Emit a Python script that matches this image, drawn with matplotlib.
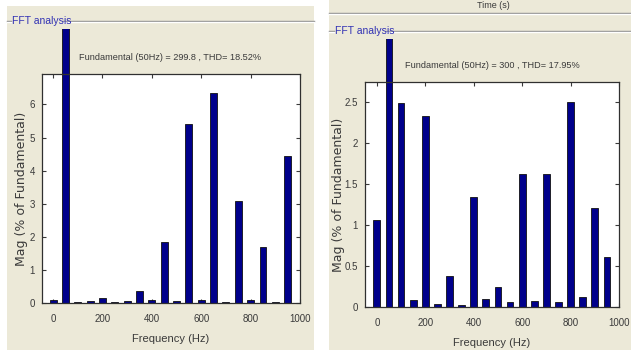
import matplotlib
matplotlib.use("Agg")
import matplotlib.pyplot as plt
from matplotlib.patches import Rectangle
from matplotlib.lines import Line2D
from matplotlib.transforms import Bbox, TransformedBbox

# Harmonic orders in Hz (DC up to 950 Hz in 50 Hz steps)
freqs = [0, 50, 100, 150, 200, 250, 300, 350, 400, 450,
         500, 550, 600, 650, 700, 750, 800, 850, 900, 950]

# Magnitudes in % of fundamental (fundamental = 100 %)
mag_left = [0.08, 100, 0.04, 0.07, 0.15, 0.04, 0.07, 0.37, 0.08, 1.83,
            0.07, 5.40, 0.08, 6.35, 0.04, 3.07, 0.08, 1.68, 0.04, 4.43]
mag_right = [1.06, 100, 2.48, 0.08, 2.33, 0.04, 0.38, 0.03, 1.34, 0.10,
             0.24, 0.06, 1.62, 0.07, 1.62, 0.06, 2.50, 0.12, 1.21, 0.61]

title_left = "Fundamental (50Hz) = 299.8 , THD= 18.52%"
title_right = "Fundamental (50Hz) = 300 , THD= 17.95%"
xticks = [0, 200, 400, 600, 800, 1000]
yticks_left = [0, 1, 2, 3, 4, 5, 6]
yticks_right = [0, 0.5, 1, 1.5, 2, 2.5]
yticklabels_right = ["0", "0.5", "1", "1.5", "2", "2.5"]

W, H = 631, 350
PANEL = "#ECE9D8"
BAR = "#00008B"
TXT = "#3a3a3a"

plt.rcParams["font.family"] = ["Liberation Sans", "DejaVu Sans"]

fig = plt.figure(figsize=(W / 100, H / 100), dpi=100, facecolor="white")


def fx(px):
    return px / W


def fy(py):
    return 1 - py / H


def panel(x0, y0, x1, y1):
    fig.patches.append(Rectangle((fx(x0), fy(y1)), fx(x1 - x0), (y1 - y0) / H,
                                 transform=fig.transFigure, facecolor=PANEL,
                                 edgecolor="none", zorder=-10))


def hline(x0, x1, y):
    fig.add_artist(Line2D([fx(x0), fx(x1)], [fy(y), fy(y)], transform=fig.transFigure,
                          color="#8c8c8c", lw=1.0, zorder=-5))
    fig.add_artist(Line2D([fx(x0), fx(x1)], [fy(y + 1), fy(y + 1)], transform=fig.transFigure,
                          color="white", lw=1.0, zorder=-5))


# background panels
panel(7, 6, 314, 350)
panel(329, 0, 631, 350)

# group frame lines with "FFT analysis" captions
hline(7, 11, 20.5)
hline(63, 314, 20.5)
fig.text(fx(12), fy(20.5), "FFT analysis", color="#3232b4", fontsize=7.5,
         va="center", ha="left")
hline(329, 631, 13)
hline(329, 334, 31)
hline(386, 631, 31)
fig.text(fx(335), fy(31), "FFT analysis", color="#3232b4", fontsize=7.5,
         va="center", ha="left")
fig.text(fx(493), fy(5), "Time (s)", color=TXT, fontsize=6.5, ha="center", va="center")


def fft_axes(rect_px, mags, ylim, yticks, yticklabels, xmin, title, title_xy,
             bar_top_px, ylabelpad):
    x0, y0, x1, y1 = rect_px
    ax = fig.add_axes([fx(x0), fy(y1), fx(x1 - x0), (y1 - y0) / H])
    ax.set_zorder(2)
    ax.set_facecolor("white")
    bars = ax.bar(freqs, mags, width=28, color=BAR, edgecolor="#101010", linewidth=0.6,
                  zorder=2)
    clip = TransformedBbox(Bbox([[fx(x0), fy(y1)], [fx(x1), fy(bar_top_px)]]),
                           fig.transFigure)
    for b in bars:
        b.set_clip_box(clip)
        b.set_clip_on(True)
    ax.set_xlim(xmin, 1000)
    ax.set_ylim(*ylim)
    ax.set_xticks(xticks)
    ax.set_yticks(yticks)
    ax.set_yticklabels(yticklabels)
    ax.tick_params(direction="in", length=3, width=0.8, top=True, right=True,
                   labelsize=7, colors=TXT, labelcolor=TXT, pad=5)
    ax.tick_params(axis="x", pad=8)
    for s in ax.spines.values():
        s.set_color("#303030")
        s.set_linewidth(0.9)
        s.set_zorder(3)
    ax.set_xlabel("Frequency (Hz)", fontsize=8, color=TXT, labelpad=7)
    ax.set_ylabel("Mag (% of Fundamental)", fontsize=9, color=TXT, labelpad=ylabelpad,
                  family="DejaVu Sans")
    fig.text(fx(title_xy[0]), fy(title_xy[1]), title, fontsize=6.6, color=TXT,
             ha="center", va="center")
    return ax


fft_axes((42, 74, 300, 303), mag_left, (0, 6.92), yticks_left,
         [str(v) for v in yticks_left], -45, title_left, (170, 57), 29, 1)
fft_axes((365, 82, 619, 307), mag_right, (0, 2.74), yticks_right,
         yticklabels_right, -49, title_right, (492, 66), 39, 0)

fig.savefig("out.png", dpi=100, facecolor="white")
